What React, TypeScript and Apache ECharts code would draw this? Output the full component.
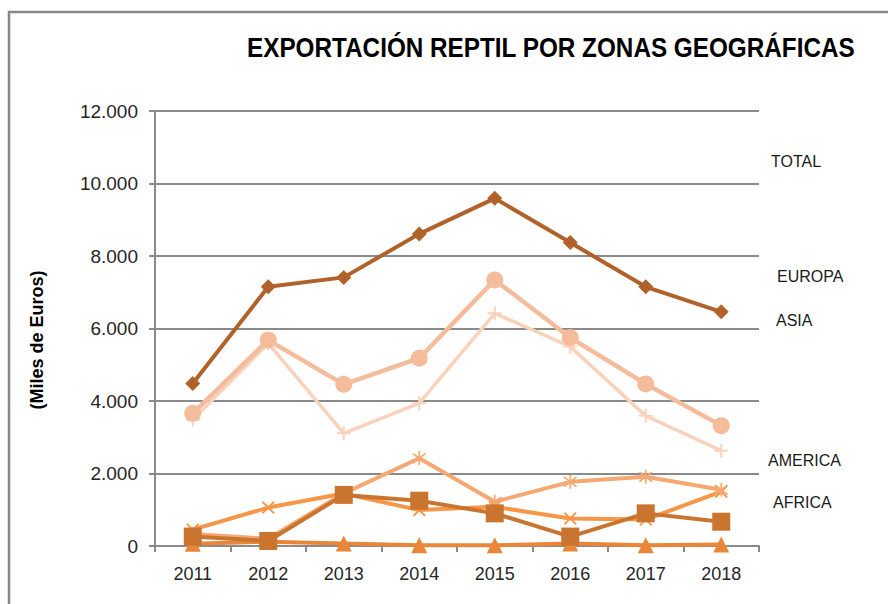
import React, { useEffect, useRef } from "react";
import * as echarts from "echarts";

const years = ["2011", "2012", "2013", "2014", "2015", "2016", "2017", "2018"];
const totalValues = [4480, 7150, 7410, 8610, 9590, 8370, 7150, 6460];
const europaValues = [3660, 5680, 4460, 5180, 7340, 5750, 4470, 3320];
const asiaValues = [3480, 5590, 3110, 3940, 6420, 5500, 3590, 2630];
const americaValues = [330, 200, 1450, 2420, 1220, 1770, 1910, 1550];
const africaValues = [450, 1060, 1450, 990, 1080, 760, 730, 1500];
const oceaniaValues = [260, 140, 1410, 1250, 900, 260, 900, 670];
const otrosValues = [60, 120, 70, 20, 20, 70, 20, 40];
const yTicks = [0, 2000, 4000, 6000, 8000, 10000, 12000];

const titleText = "EXPORTACIÓN REPTIL POR ZONAS GEOGRÁFICAS";
const yAxisTitle = "(Miles de Euros)";
const sideLabels = ["TOTAL", "EUROPA", "ASIA", "AMERICA", "AFRICA"];

const PLUS = "path://M4.3,0h1.4v4.3h4.3v1.4h-4.3v4.3h-1.4v-4.3h-4.3v-1.4h4.3z";
const CROSS = "path://M1,0L5,4L9,0L10,1L6,5L10,9L9,10L5,6L1,10L0,9L4,5L0,1z";
const STAR =
  "path://M1,0L5,4L9,0L10,1L6,5L10,9L9,10L5,6L1,10L0,9L4,5L0,1z M4.4,-1.5h1.2v13h-1.2z";

function fmt(v: number): string {
  return String(v).replace(/\B(?=(\d{3})+(?!\d))/g, ".");
}

export default function App() {
  const ref = useRef<HTMLDivElement>(null);
  useEffect(() => {
    if (!ref.current) return;
    const chart = echarts.init(ref.current, null, { renderer: "svg" });
    const mk = (
      name: string,
      data: number[],
      color: string,
      symbol: string,
      symbolSize: number,
      width: number,
      z: number
    ) => ({
      name,
      type: "line",
      data,
      symbol,
      symbolSize,
      showAllSymbol: true,
      z,
      lineStyle: { color, width },
      itemStyle: { color, borderWidth: 0 },
      emphasis: { disabled: true },
    });
    const sidePos = [
      [771, 161],
      [777, 276],
      [776, 320],
      [768, 460],
      [773, 502],
    ];
    chart.setOption({
      animation: false,
      grid: { left: 155, right: 129, top: 111, bottom: 58, containLabel: false },
      xAxis: {
        type: "category",
        data: years,
        boundaryGap: true,
        axisLine: { lineStyle: { color: "#8a8a8a", width: 2 } },
        axisTick: { show: true, length: 6, inside: false, lineStyle: { color: "#8a8a8a", width: 2 } },
        axisLabel: {
          margin: 19,
          fontSize: 18,
          color: "#262626",
          fontFamily: "Liberation Sans, Arial, sans-serif",
        },
      },
      yAxis: {
        type: "value",
        min: 0,
        max: 12000,
        interval: 2000,
        axisLine: { show: true, lineStyle: { color: "#8a8a8a", width: 2 } },
        axisTick: { show: true, length: 6, lineStyle: { color: "#8a8a8a", width: 2 } },
        splitLine: { lineStyle: { color: "#8a8a8a", width: 2 } },
        axisLabel: {
          margin: 17,
          fontSize: 19,
          color: "#262626",
          fontFamily: "Liberation Sans, Arial, sans-serif",
          formatter: (v: number) => (yTicks.includes(v) ? fmt(v) : ""),
        },
      },
      series: [
        mk("TOTAL", totalValues, "#b0622a", "diamond", 15, 4, 10),
        mk("EUROPA", europaValues, "#f5bc9c", "circle", 17, 4.5, 9),
        mk("ASIA", asiaValues, "#f9d2bb", PLUS, 14, 3.5, 8),
        mk("AMERICA", americaValues, "#f7a872", STAR, 14, 4, 6),
        mk("AFRICA", africaValues, "#f79646", CROSS, 13, 4, 5),
        mk("OTROS", otrosValues, "#e8873a", "triangle", 16, 4, 4),
        mk("OCEANIA", oceaniaValues, "#c97530", "rect", 18, 4, 7),
      ],
      graphic: [
        {
          type: "rect",
          shape: { x: 9, y: 12, width: 1000, height: 1000 },
          style: { fill: "none", stroke: "#888888", lineWidth: 2.5 },
          silent: true,
        },
        {
          type: "text",
          x: 247,
          y: 48,
          scaleX: 0.9,
          style: {
            text: titleText,
            font: "bold 27px 'Liberation Sans', sans-serif",
            fill: "#000000",
            verticalAlign: "middle",
            align: "left",
          },
        },
        {
          type: "text",
          x: 37,
          y: 340,
          rotation: Math.PI / 2,
          style: {
            text: yAxisTitle,
            font: "bold 18px 'Liberation Sans', sans-serif",
            fill: "#000000",
            verticalAlign: "middle",
            align: "center",
          },
        },
        ...sideLabels.map((t, i) => ({
          type: "text",
          x: sidePos[i][0],
          y: sidePos[i][1],
          style: {
            text: t,
            font: "16px 'Liberation Sans', sans-serif",
            fill: "#1a1a1a",
            verticalAlign: "middle",
            align: "left",
          },
        })),
      ],
    });
    return () => chart.dispose();
  }, []);
  return (
    <div
      ref={ref}
      style={{ position: "fixed", left: 0, top: 0, width: 888, height: 604, background: "#fff" }}
    />
  );
}
